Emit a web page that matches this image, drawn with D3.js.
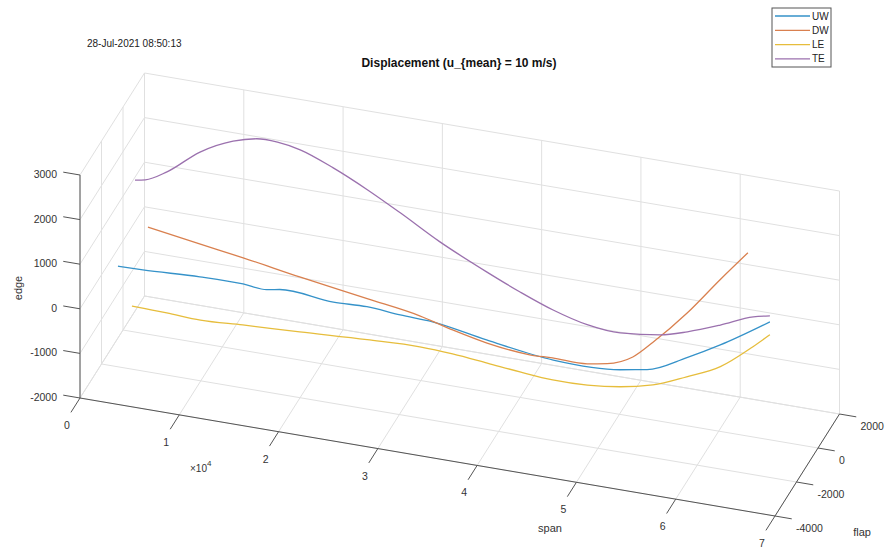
<!DOCTYPE html>
<html>
<head>
<meta charset="utf-8">
<script src="https://cdn.jsdelivr.net/npm/d3@7"></script>
<style>
  body { margin: 0; background: #fff; }
  svg text { font-family: "Liberation Sans", Arial, sans-serif; fill: #333; }
</style>
</head>
<body>
<div id="chart"></div>
<script>
// axis ticks
const spanTicks = [0, 1, 2, 3, 4, 5, 6, 7];
const flapTicks = [-4000, -2000, 0, 2000];
const edgeTicks = [-2000, -1000, 0, 1000, 2000, 3000];

const seriesNames = ["UW", "DW", "LE", "TE"];
const seriesColors = ["#3592c9", "#d9804f", "#e6bd3c", "#9b71ae"];

// span (x10^4), flap, edge for each edge line
const uwSpan = [0.30, 0.53, 1.06, 1.46, 1.68, 1.80, 2.30, 2.61, 2.92, 3.22, 3.72, 4.34, 4.96, 5.21, 5.58, 5.89, 6.35];
const uwFlap = [-3240, -3050, -2640, -2320, -2150, -2050, -1670, -1420, -1180, -940, -540, -60, 430, 630, 920, 1160, 1530];
const uwEdge = [780, 710, 600, 470, 360, 370, 130, 50, -110, -240, -610, -1010, -1180, -1160, -860, -550, 0];

const dwSpan = [0.30, 0.82, 1.26, 1.83, 2.51, 3.04, 3.38, 3.72, 4.15, 4.38, 4.73, 4.93, 5.19, 5.39, 5.74, 6.07, 6.35];
const dwFlap = [-450, -450, -460, -470, -470, -480, -490, -490, -490, -500, -500, -500, -510, -510, -510, -520, -520];
const dwEdge = [590, 410, 270, 60, -170, -350, -540, -700, -800, -780, -780, -700, -450, -50, 750, 1620, 2330];

const leSpan = [0.30, 0.63, 0.95, 1.35, 1.89, 2.53, 3.03, 3.34, 3.67, 3.98, 4.29, 4.62, 4.93, 5.24, 5.56, 5.88, 6.19, 6.35];
const leFlap = [-1940, -1750, -1570, -1330, -1020, -660, -370, -190, -10, 170, 350, 530, 710, 890, 1080, 1260, 1430, 1530];
const leEdge = [-610, -710, -820, -870, -940, -1010, -1090, -1200, -1350, -1500, -1630, -1690, -1680, -1590, -1360, -1080, -580, -290];

const teSpan = [0.15, 0.25, 0.46, 0.78, 1.10, 1.33, 1.53, 1.75, 2.07, 2.40, 2.72, 3.10, 3.56, 3.88, 4.20, 4.53, 4.85, 5.24, 5.50, 5.82, 6.14, 6.30];
const teFlap = [-270, -230, -160, -40, 80, 160, 240, 320, 440, 560, 670, 820, 980, 1100, 1220, 1340, 1460, 1600, 1700, 1810, 1930, 1990];
const teEdge = [1520, 1550, 1780, 2300, 2620, 2730, 2700, 2580, 2250, 1840, 1400, 840, 270, -100, -430, -680, -790, -740, -610, -380, -120, -60];

const width = 892, height = 548;

const svg = d3.select("#chart")
  .append("svg")
  .attr("width", width)
  .attr("height", height);

// orthographic 3d view, built from three linear scales
const spanX = d3.scaleLinear().domain([0, 7]).range([80, 775]);
const spanY = d3.scaleLinear().domain([0, 7]).range([0, 118]);
const flapX = d3.scaleLinear().domain([-4000, 2000]).range([0, 64.5]);
const flapY = d3.scaleLinear().domain([-4000, 2000]).range([398, 296]);
const edgeY = d3.scaleLinear().domain([-2000, 3000]).range([0, -223]);

function project(s, f, e) {
  return [spanX(s) + flapX(f), spanY(s) + flapY(f) + edgeY(e)];
}

const sMin = 0, sMax = 7, fMin = -4000, fMax = 2000, eMin = -2000, eMax = 3000;

function seg(g, a, b, color, w) {
  const p = project(...a), q = project(...b);
  g.append("line")
    .attr("x1", p[0]).attr("y1", p[1])
    .attr("x2", q[0]).attr("y2", q[1])
    .style("stroke", color)
    .style("stroke-width", w);
}

// grid on the three back planes
const grid = svg.append("g").attr("id", "grid");
const gc = "#e0e0e0";
spanTicks.forEach(s => {
  seg(grid, [s, fMax, eMin], [s, fMax, eMax], gc, 1);   // back wall
  seg(grid, [s, fMin, eMin], [s, fMax, eMin], gc, 1);   // floor
});
edgeTicks.forEach(e => {
  seg(grid, [sMin, fMax, e], [sMax, fMax, e], gc, 1);   // back wall
  seg(grid, [sMin, fMin, e], [sMin, fMax, e], gc, 1);   // left wall
});
flapTicks.forEach(f => {
  seg(grid, [sMin, f, eMin], [sMax, f, eMin], gc, 1);   // floor
  seg(grid, [sMin, f, eMin], [sMin, f, eMax], gc, 1);   // left wall
});

// axis lines
const axes = svg.append("g").attr("id", "axes");
const ac = "#555";
seg(axes, [sMin, fMin, eMin], [sMin, fMin, eMax], ac, 1);
seg(axes, [sMin, fMin, eMin], [sMax, fMin, eMin], ac, 1);
seg(axes, [sMax, fMin, eMin], [sMax, fMax, eMin], ac, 1);

// tick directions (screen unit vectors)
function dir(a, b) {
  const p = project(...a), q = project(...b);
  const dx = q[0] - p[0], dy = q[1] - p[1], l = Math.hypot(dx, dy);
  return [dx / l, dy / l];
}
const tl = 17;
const dSpan = dir([0, 0, 0], [1, 0, 0]);
const dFlap = dir([0, 0, 0], [0, 1000, 0]);

const tickG = svg.append("g").attr("id", "ticks").style("font-size", "10.5px");

edgeTicks.forEach(e => {
  const p = project(sMin, fMin, e);
  tickG.append("line")
    .attr("x1", p[0]).attr("y1", p[1])
    .attr("x2", p[0] - dSpan[0] * tl).attr("y2", p[1] - dSpan[1] * tl)
    .style("stroke", ac).style("stroke-width", 1);
  tickG.append("text")
    .attr("x", p[0] - 23).attr("y", p[1] + 3)
    .attr("text-anchor", "end")
    .text(e);
});

spanTicks.forEach(s => {
  const p = project(s, fMin, eMin);
  tickG.append("line")
    .attr("x1", p[0]).attr("y1", p[1])
    .attr("x2", p[0] - dFlap[0] * tl).attr("y2", p[1] - dFlap[1] * tl)
    .style("stroke", ac).style("stroke-width", 1);
  tickG.append("text")
    .attr("x", p[0] - 13).attr("y", p[1] + 31)
    .attr("text-anchor", "middle")
    .text(s);
});

flapTicks.forEach(f => {
  const p = project(sMax, f, eMin);
  tickG.append("line")
    .attr("x1", p[0]).attr("y1", p[1])
    .attr("x2", p[0] + dSpan[0] * tl).attr("y2", p[1] + dSpan[1] * tl)
    .style("stroke", ac).style("stroke-width", 1);
  tickG.append("text")
    .attr("x", p[0] + 21).attr("y", p[1] + 16)
    .attr("text-anchor", "start")
    .text(f);
});

// exponent of span axis
const ex = tickG.append("text").attr("x", 190).attr("y", 472).style("font-size", "10px");
ex.append("tspan").text("\u00d710");
ex.append("tspan").attr("dy", -6).style("font-size", "8px").text("4");

// axis names
const labG = svg.append("g").style("font-size", "11px");
labG.append("text").attr("x", 550).attr("y", 532).attr("text-anchor", "middle").text("span");
labG.append("text").attr("x", 862).attr("y", 536).attr("text-anchor", "middle").text("flap");
labG.append("text")
  .attr("transform", "translate(22,288) rotate(-90)")
  .attr("text-anchor", "middle")
  .text("edge");

// curves
const series = [
  { span: uwSpan, flap: uwFlap, edge: uwEdge },
  { span: dwSpan, flap: dwFlap, edge: dwEdge },
  { span: leSpan, flap: leFlap, edge: leEdge },
  { span: teSpan, flap: teFlap, edge: teEdge }
];

const line = d3.line().curve(d3.curveMonotoneX);

const curves = svg.append("g").attr("id", "curves");
series.forEach((d, i) => {
  const pts = d.span.map((s, k) => project(s, d.flap[k], d.edge[k]));
  curves.append("path")
    .attr("d", line(pts))
    .style("fill", "none")
    .style("stroke", seriesColors[i])
    .style("stroke-width", 1.3);
});

// title + date
svg.append("text")
  .attr("x", 459).attr("y", 67)
  .attr("text-anchor", "middle")
  .style("font-size", "12px").style("font-weight", "bold").style("fill", "#111")
  .text("Displacement (u_{mean} = 10 m/s)");

svg.append("text")
  .attr("x", 87).attr("y", 47)
  .style("font-size", "10px").style("fill", "#222")
  .text("28-Jul-2021 08:50:13");

// legend
const leg = svg.append("g").attr("id", "legend");
leg.append("rect")
  .attr("x", 772).attr("y", 8)
  .attr("width", 59).attr("height", 59)
  .style("fill", "#fff").style("stroke", "#555").style("stroke-width", 1);

seriesNames.forEach((n, i) => {
  const y = 16 + i * 14.3;
  leg.append("line")
    .attr("x1", 775).attr("x2", 810)
    .attr("y1", y).attr("y2", y)
    .style("stroke", seriesColors[i]).style("stroke-width", 1.3);
  leg.append("text")
    .attr("x", 812).attr("y", y + 3.5)
    .style("font-size", "10px").style("fill", "#222")
    .text(n);
});
</script>
</body>
</html>
